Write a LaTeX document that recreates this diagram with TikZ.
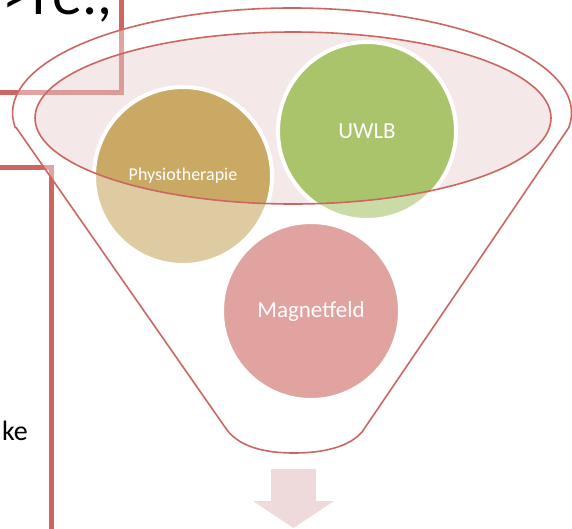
\documentclass[tikz,border=0pt]{standalone}
\usepackage{fontspec}
\setmainfont{Carlito}
\usetikzlibrary{positioning}
\definecolor{rimred}{HTML}{CD6661}
\definecolor{physio}{HTML}{C9A963}
\definecolor{uwlb}{HTML}{A9C46B}
\definecolor{mouthpink}{HTML}{E9D1D1}
\definecolor{arrowpink}{HTML}{EFDADB}
\begin{document}
\begin{tikzpicture}[x=1pt, y=-1pt,
  frame/.style={draw=rimred, line width=5pt},
  ball/.style={circle, draw=white, line width=4pt, minimum size=178pt, inner sep=0pt, text=white},
  rim/.style={draw=rimred, line width=1.6pt}]
  \useasboundingbox (0,0) rectangle (572,528);
  \clip (0,0) rectangle (572,528);

  \coordinate (m0) at (293,118) ;
  \coordinate (r0) at (568.8,127.6) ;
  \coordinate (r1) at (16.2,127.6) ;
  \coordinate (b0) at (227,430) ;
  \coordinate (b1) at (294,453) ;
  \coordinate (b2) at (362,432) ;

  % text boxes on the left
  \draw[frame] (-10,92) -| (121,-10);
  \draw[frame] (-10,167) -| (51,540);
  \node[anchor=base west, inner sep=0pt, font=\fontsize{60}{60}\selectfont] (t0) at (2,14) {>re.,};
  \node[anchor=base east, inner sep=0pt, font=\fontsize{28}{28}\selectfont] (t1) at (28,440) {ke};

  % mouth of the funnel
  \fill[mouthpink, opacity=0.5] (m0) ellipse [x radius=258pt, y radius=86pt];

  \node[ball, fill=physio, font=\fontsize{18}{18}\selectfont] (physio) at (183,176) {Physiotherapie};
  \node[ball, fill=uwlb, font=\fontsize{23}{23}\selectfont] (uwlb) at (367,131) {UWLB};
  \node[ball, fill=rimred, font=\fontsize{23}{23}\selectfont] (magnet) at (311,311) {Magnetfeld};

  % funnel body
  \draw[rim, fill=white, fill opacity=0.4, even odd rule]
    (r1) -- (b0) .. controls +(13,17) and +(-29,0) .. (b1)
    .. controls +(29,0) and +(-13,15) .. (b2) -- (r0)
    arc[start angle=-8, end angle=188, x radius=279.5pt, y radius=105pt] -- cycle
    (m0) ellipse [x radius=258pt, y radius=86pt];

  \fill[arrowpink] (271,469) -- (316,469) -- (316,501) -- (334,501)
    -- (293.5,528) -- (253,501) -- (271,501) -- cycle;
\end{tikzpicture}
\end{document}
